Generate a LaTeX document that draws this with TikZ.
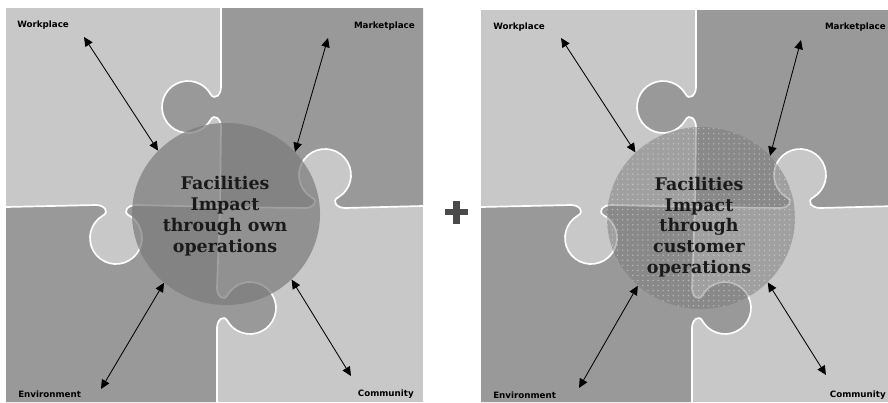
\documentclass[tikz,border=0pt]{standalone}
\usepackage{fontspec}
\setmainfont{DejaVu Serif}
\newfontfamily\tagfont{DejaVu Sans}
\usepackage{tikz}
\usetikzlibrary{shapes.geometric}
\usetikzlibrary{arrows.meta}
\usetikzlibrary{patterns.meta}

\definecolor{pieceLight}{HTML}{C8C8C8}
\definecolor{pieceDark}{HTML}{999999}
\definecolor{hubGray}{HTML}{7A7A7A}
\definecolor{plusGray}{HTML}{4A4A4A}
\definecolor{hubInk}{HTML}{1A1A1A}

\newcommand{\trseam}{(423,206) -- (345,208) .. controls (337,208) and (331.1,201.5) .. (338,197.5) arc[start angle=60,end angle=-240,radius=26] .. controls (318.9,201.5) and (313,208) .. (305,208) -- (220,207) -- (221,127) .. controls (221,119) and (214.5,113.1) .. (210.5,120) arc[start angle=30,end angle=330,radius=26] .. controls (214.5,100.9) and (221,95) .. (221,87) -- (221,8)}
\newcommand{\blseam}{(6,207) -- (96,205) .. controls (104,205) and (109.9,211.5) .. (103,215.5) arc[start angle=240,end angle=-60,radius=26] .. controls (122.1,211.5) and (128,205) .. (136,205) -- (220,207) -- (217,288) .. controls (217,296) and (223.5,301.9) .. (227.5,295) arc[start angle=210,end angle=510,radius=26] .. controls (223.5,314.1) and (217,320) .. (217,328) -- (217,402)}
\newcommand{\puzzlepieces}{%
\fill[pieceLight] (6,8) rectangle (423,402);
\fill[pieceDark] \trseam -- (423,8) -- cycle;
\fill[pieceDark] \blseam -- (6,402) -- cycle;
\draw[seam] \trseam;
\draw[seam] \blseam;
}

\begin{document}
\begin{tikzpicture}[x=0.025cm, y=-0.025cm,
  seam/.style={white, line width=1.2pt},
  hub/.style={ellipse, minimum width=4.7cm, minimum height=4.55cm, inner sep=0pt},
  hubtext/.style={align=center, text=hubInk, inner sep=0pt, font=\bfseries\fontsize{12.4}{14.8}\selectfont},
  tag/.style={font=\tagfont\bfseries\fontsize{6.2}{7}\selectfont, text=black, inner sep=0pt},
  link/.style={{Triangle[length=6.5pt,width=6pt]}-{Triangle[length=6.5pt,width=6pt]}, line width=0.6pt},
  plus/.style={plusGray, line width=4.3pt}]
\useasboundingbox (0,0) rectangle (888,402);

\begin{scope}
\clip (6,8) rectangle (423,402);
\puzzlepieces
\node[hub, fill=hubGray, fill opacity=0.7] (hubL) at (226,214) {};
\node[hubtext] (textL) at (225,216) {Facilities\\Impact\\through own\\operations};
\node[tag, anchor=west] (workL) at (17,25) {Workplace};
\node[tag, anchor=east] (marketL) at (415,26) {Marketplace};
\node[tag, anchor=west] (envL) at (18,394) {Environment};
\node[tag, anchor=east] (commL) at (414,394) {Community};
\coordinate (workEndL) at (84,37);
\coordinate (marketEndL) at (328,38);
\coordinate (envEndL) at (101,389);
\coordinate (commEndL) at (351,376);
\draw[link] (workEndL) -- (hubL.137);
\draw[link] (marketEndL) -- (hubL.42);
\draw[link] (envEndL) -- (hubL.228);
\draw[link] (commEndL) -- (hubL.315);
\end{scope}

\draw[plus] (445,212) -- (468,212) (456.5,200.5) -- (456.5,223.5);

\begin{scope}[shift={(475,0)}]
\clip (6,10) rectangle (413,402);
\puzzlepieces
\node[hub, fill=hubGray, fill opacity=0.5, postaction={pattern={Dots[distance=3.6pt,radius=0.55pt]}, pattern color=white!85!gray}] (hubR) at (226,218) {};
\node[hubtext] (textR) at (224,227) {Facilities\\Impact\\through\\customer\\operations};
\node[tag, anchor=west] (workR) at (18,27) {Workplace};
\node[tag, anchor=east] (marketR) at (411,27) {Marketplace};
\node[tag, anchor=west] (envR) at (18,395) {Environment};
\node[tag, anchor=east] (commR) at (411,395) {Community};
\coordinate (workEndR) at (86,38);
\coordinate (marketEndR) at (326,40);
\coordinate (envEndR) at (104,388);
\coordinate (commEndR) at (351,375);
\draw[link] (workEndR) -- (hubR.135);
\draw[link] (marketEndR) -- (hubR.42);
\draw[link] (envEndR) -- (hubR.227);
\draw[link] (commEndR) -- (hubR.316);
\end{scope}
\end{tikzpicture}
\end{document}
